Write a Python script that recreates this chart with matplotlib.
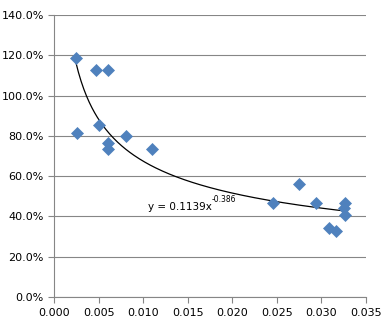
import numpy as np
import matplotlib.pyplot as plt
from matplotlib.ticker import FuncFormatter

x_vals = [0.0024, 0.0026, 0.0047, 0.0060, 0.0050, 0.0060, 0.0060, 0.0080, 0.0110,
          0.0246, 0.0275, 0.0294, 0.0309, 0.0316, 0.0325, 0.0327, 0.0327]
y_vals = [1.187, 0.814, 1.128, 1.128, 0.854, 0.765, 0.736, 0.801, 0.736,
          0.466, 0.561, 0.466, 0.342, 0.325, 0.440, 0.466, 0.408]
coef_a = 0.1139
coef_b = -0.386

grey = '#868686'
blue = '#4F81BD'

fig = plt.figure(figsize=(3.88, 3.27), dpi=100)
ax = fig.add_axes([0.14, 0.092, 0.803, 0.862])

ax.scatter(x_vals, y_vals, marker='D', s=44, color=blue, zorder=3, linewidths=0)

xs = np.linspace(min(x_vals), max(x_vals), 200)
ax.plot(xs, coef_a * xs ** coef_b, color='black', lw=0.9, zorder=2)

# trendline equation label, exponent as a separate small text
t = ax.text(0.0105, 0.447, 'y = 0.1139x', fontsize=7.5, va='center')
ax.annotate('-0.386', xycoords=t, xy=(1, 0.75), fontsize=5.5, va='bottom')

ax.set_xlim(0, 0.035)
ax.set_ylim(0, 1.4)
ax.set_xticks(np.arange(0, 0.0351, 0.005))
ax.set_yticks(np.arange(0, 1.41, 0.2))
ax.xaxis.set_major_formatter(FuncFormatter(lambda v, p: f'{v:.3f}'))
ax.yaxis.set_major_formatter(FuncFormatter(lambda v, p: f'{v*100:.1f}%'))
ax.tick_params(labelsize=8, color=grey, length=4, width=0.8)
ax.tick_params(axis='x', pad=4)
ax.grid(axis='y', color=grey, lw=0.8)
ax.set_axisbelow(True)
for s in ['top', 'right']:
    ax.spines[s].set_visible(False)
for s in ['left', 'bottom']:
    ax.spines[s].set_color(grey)
    ax.spines[s].set_linewidth(0.8)

fig.savefig('out.png', dpi=100)
